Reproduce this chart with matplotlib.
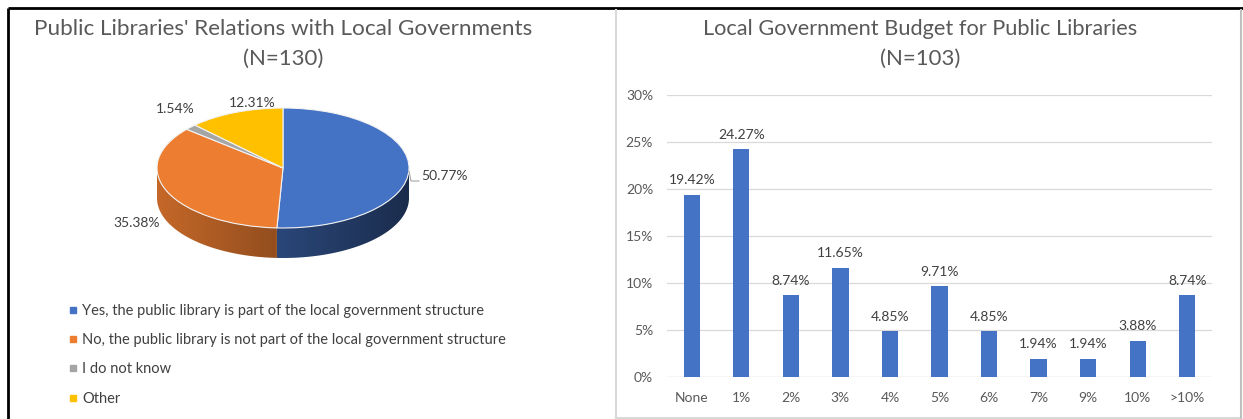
import numpy as np
import matplotlib
matplotlib.use("Agg")
import matplotlib.pyplot as plt
from matplotlib.patches import Polygon
from matplotlib.lines import Line2D
from matplotlib.colors import to_rgb

W, H = 1243, 419

# left chart data
pie_labels = ["Yes, the public library is part of the local government structure",
              "No, the public library is not part of the local government structure",
              "I do not know",
              "Other"]
pie_values = [50.77, 35.38, 1.54, 12.31]
pie_colors = ["#4472c4", "#ed7d31", "#a5a5a5", "#ffc000"]

# right chart data
bar_cats = ["None", "1%", "2%", "3%", "4%", "5%", "6%", "7%", "9%", "10%", ">10%"]
bar_values = [19.42, 24.27, 8.74, 11.65, 4.85, 9.71, 4.85, 1.94, 1.94, 3.88, 8.74]

TITLE_C = "#595959"
TEXT_C = "#404040"

plt.rcParams['font.family'] = ['Lato', 'DejaVu Sans']

# pie geometry in pixels: centre, half axes, side depth
cx, cy, a, b, dep = 283, 168, 126, 60, 30
# where Excel put the percentage labels (pixel centres)
pct_label_px = [(444, 176), (137, 223), (175, 109), (252, 103)]


def box(x0, y0, x1, y1):
    # pixel box (top-left origin) -> figure fraction rect
    return [x0 / W, 1 - y1 / H, (x1 - x0) / W, (y1 - y0) / H]


def px2pie(px, py):
    return (px - cx) / a, (cy - py) / b


fig = plt.figure(figsize=(W / 100, H / 100), dpi=100)

# frame lines in pixel coordinates
bg = fig.add_axes([0, 0, 1, 1])
bg.set_xlim(0, W)
bg.set_ylim(H, 0)
bg.axis('off')
bg.plot([8, W], [8, 8], color='black', lw=2, solid_capstyle='butt')
bg.plot([8, 8], [8, H], color='black', lw=2, solid_capstyle='butt')
bg.plot([616, 616], [10, 418], color='#d9d9d9', lw=1.5)
bg.plot([616, 1241], [418, 418], color='#d9d9d9', lw=1.5)
bg.plot([1241, 1241], [10, 418], color='#bfbfbf', lw=1.5)

# titles
fig.text(283 / W, 1 - 29 / H, "Public Libraries' Relations with Local Governments",
         ha='center', va='center', fontsize=16.2, color=TITLE_C)
fig.text(283 / W, 1 - 59 / H, "(N=130)", ha='center', va='center', fontsize=16, color=TITLE_C)
fig.text(920 / W, 1 - 29 / H, "Local Government Budget for Public Libraries",
         ha='center', va='center', fontsize=15.7, color=TITLE_C)
fig.text(920 / W, 1 - 59 / H, "(N=103)", ha='center', va='center', fontsize=16, color=TITLE_C)

# ---- 3D-looking pie ----
pbox = (100, 80, 470, 300)
ax1 = fig.add_axes(box(*pbox))
wedges, _ = ax1.pie(pie_values, colors=pie_colors, startangle=90, counterclock=False,
                    wedgeprops=dict(edgecolor='#f2f2f2', linewidth=0.8))
d = dep / b
xl = ((pbox[0] - cx) / a, (pbox[2] - cx) / a)
yl = ((cy - pbox[3]) / b, (cy - pbox[1]) / b)

xs = np.linspace(-1, 1, 300)
shade = 0.61 - 0.22 * xs
for w, col in zip(wedges, pie_colors):
    w.set_zorder(3)
    t = np.radians(np.linspace(w.theta1, w.theta2, 400))
    t = t[np.sin(t) < 0]
    if len(t) < 2:
        continue
    top = np.column_stack([np.cos(t), np.sin(t)])
    bot = top[::-1] - [0, d]
    poly = Polygon(np.vstack([top, bot]), closed=True, facecolor='none', edgecolor='none')
    ax1.add_patch(poly)
    base = np.array(to_rgb(col))
    img = np.clip(shade[None, :, None] * base[None, None, :], 0, 1)
    im = ax1.imshow(img, extent=[-1, 1, -1 - d, 0.05], aspect='auto', zorder=2,
                    interpolation='bilinear')
    im.set_clip_path(poly)

# percentage labels
for v, (px, py) in zip(pie_values, pct_label_px):
    lx, ly = px2pie(px, py)
    ax1.text(lx, ly, f"{v:.2f}%", ha='center', va='center', fontsize=10, color=TEXT_C, zorder=5)

# small leader line to the big slice label
lead = np.array([px2pie(409, 171), px2pie(411, 181), px2pie(419, 181)])
ax1.plot(lead[:, 0], lead[:, 1], color='#a6a6a6', lw=0.8, zorder=4)

ax1.set_aspect('auto')
ax1.set_xlim(*xl)
ax1.set_ylim(*yl)
ax1.axis('off')

handles = [Line2D([], [], marker='s', linestyle='none', markersize=4.5,
                  markerfacecolor=c, markeredgecolor=c) for c in pie_colors]
fig.legend(handles, pie_labels, loc='upper left', bbox_to_anchor=(64 / W, 1 - 298 / H),
           frameon=False, fontsize=10.5, labelcolor=TEXT_C, handlelength=0.5,
           handletextpad=0.35, labelspacing=1.05, borderaxespad=0)

# ---- bar chart ----
ax2 = fig.add_axes(box(667, 95.5, 1212, 377))
x = np.arange(len(bar_cats))
bars = ax2.bar(x, bar_values, width=0.33, color='#4472c4', zorder=3)
ax2.bar_label(bars, labels=[f"{v:.2f}%" for v in bar_values], padding=6,
              fontsize=10, color=TEXT_C)
ax2.set_xlim(-0.5, len(bar_cats) - 0.5)
ax2.set_ylim(0, 30)
ax2.set_yticks(np.arange(0, 31, 5))
ax2.set_yticklabels([f"{v}%" for v in range(0, 31, 5)])
ax2.set_xticks(x)
ax2.set_xticklabels(bar_cats)
ax2.grid(axis='y', color='#d9d9d9', lw=0.9, zorder=0)
for s in ax2.spines.values():
    s.set_visible(False)
ax2.axhline(0, color='#d9d9d9', lw=0.9, zorder=1)
ax2.tick_params(length=0, labelsize=10, labelcolor=TITLE_C)
ax2.tick_params(axis='y', pad=10)
ax2.tick_params(axis='x', pad=11)

fig.savefig("out.png", dpi=100)
